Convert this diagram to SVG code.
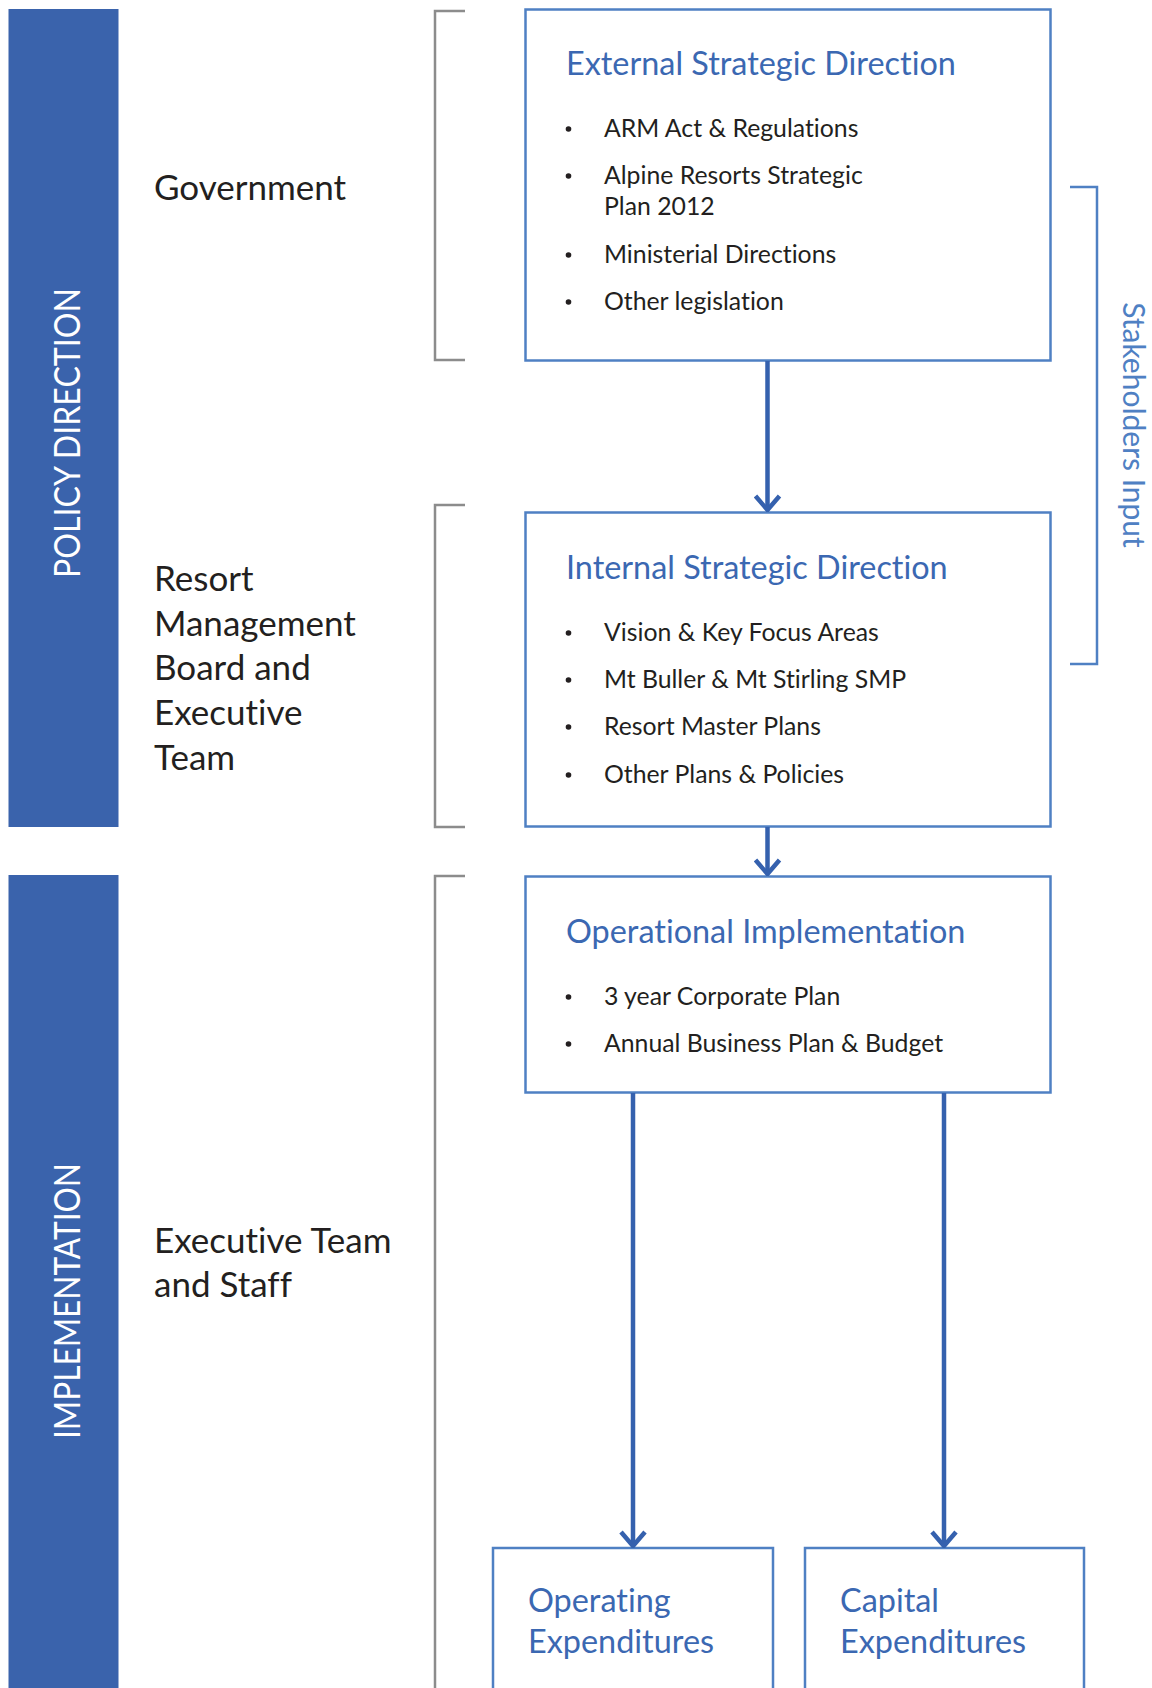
<svg xmlns="http://www.w3.org/2000/svg" width="1152" height="1688" viewBox="0 0 1152 1688">
<defs>
<style>
text{font-variant-ligatures:none}
.band{fill:#3A63AC}
.bandtxt{font-family:Lato,"Open Sans",sans-serif;font-size:37px;fill:#ffffff}
.lbl{font-family:Lato,"Open Sans",sans-serif;font-size:35px;fill:#231F20}
.box{fill:#ffffff;stroke:#4F80C3;stroke-width:2.5}
.ttl{font-family:Lato,"Open Sans",sans-serif;font-size:32.4px;fill:#3B68B2}
.item{font-family:Lato,"Open Sans",sans-serif;font-size:24.8px;fill:#231F20}
.dot{fill:#231F20}
.brk{fill:none;stroke:#8C8C8C;stroke-width:2.5}
.sbrk{fill:none;stroke:#4F80C3;stroke-width:2.5}
.conn{fill:none;stroke:#3561AE;stroke-width:4.5}
.stk{font-family:Lato,"Open Sans",sans-serif;font-size:30px;fill:#4F80C3}
</style>
<marker id="chev" viewBox="0 0 18 28" refX="16" refY="14" markerWidth="18" markerHeight="28" markerUnits="userSpaceOnUse" orient="auto">
<path d="M2,2 L16,14 L2,26" fill="none" stroke="#3561AE" stroke-width="4.5"/>
</marker>
</defs>
<rect width="1152" height="1688" fill="#ffffff"/>

<g id="band-policy">
<rect class="band" x="8.5" y="9" width="110" height="818"/>
<text class="bandtxt" transform="translate(80,433) rotate(-90)" text-anchor="middle" textLength="290" lengthAdjust="spacingAndGlyphs">POLICY DIRECTION</text>
</g>
<g id="band-implementation">
<rect class="band" x="8.5" y="875" width="110" height="813"/>
<text class="bandtxt" transform="translate(80,1301) rotate(-90)" text-anchor="middle" textLength="276" lengthAdjust="spacingAndGlyphs">IMPLEMENTATION</text>
</g>

<g id="label-government">
<text class="lbl" x="154" y="200">Government</text>
</g>
<g id="label-board">
<text class="lbl" x="154" y="591">Resort</text>
<text class="lbl" x="154" y="636">Management</text>
<text class="lbl" x="154" y="680">Board and</text>
<text class="lbl" x="154" y="725">Executive</text>
<text class="lbl" x="154" y="770">Team</text>
</g>
<g id="label-staff">
<text class="lbl" x="154" y="1253">Executive Team</text>
<text class="lbl" x="154" y="1297">and Staff</text>
</g>

<g id="brackets">
<path class="brk" d="M465,11 H435 V360 H465"/>
<path class="brk" d="M465,505 H435 V827 H465"/>
<path class="brk" d="M465,876 H435 V1690"/>
</g>

<g id="external">
<rect class="box" x="525.5" y="9.5" width="525" height="351"/>
<text class="ttl" x="566" y="75">External Strategic Direction</text>
<circle class="dot" cx="568.5" cy="129" r="2.8"/>
<text class="item" x="604" y="137">ARM Act &amp; Regulations</text>
<circle class="dot" cx="568.5" cy="176" r="2.8"/>
<text class="item" x="604" y="184">Alpine Resorts Strategic</text>
<text class="item" x="604" y="215">Plan 2012</text>
<circle class="dot" cx="568.5" cy="255" r="2.8"/>
<text class="item" x="604" y="263">Ministerial Directions</text>
<circle class="dot" cx="568.5" cy="302" r="2.8"/>
<text class="item" x="604" y="310">Other legislation</text>
</g>

<g id="internal">
<rect class="box" x="525.5" y="512.5" width="525" height="314"/>
<text class="ttl" x="566" y="579">Internal Strategic Direction</text>
<circle class="dot" cx="568.5" cy="633" r="2.8"/>
<text class="item" x="604" y="641">Vision &amp; Key Focus Areas</text>
<circle class="dot" cx="568.5" cy="680" r="2.8"/>
<text class="item" x="604" y="688">Mt Buller &amp; Mt Stirling SMP</text>
<circle class="dot" cx="568.5" cy="727" r="2.8"/>
<text class="item" x="604" y="735">Resort Master Plans</text>
<circle class="dot" cx="568.5" cy="775" r="2.8"/>
<text class="item" x="604" y="783">Other Plans &amp; Policies</text>
</g>

<g id="operational">
<rect class="box" x="525.5" y="876.5" width="525" height="216"/>
<text class="ttl" x="566" y="943">Operational Implementation</text>
<circle class="dot" cx="568.5" cy="997" r="2.8"/>
<text class="item" x="604" y="1005">3 year Corporate Plan</text>
<circle class="dot" cx="568.5" cy="1044" r="2.8"/>
<text class="item" x="604" y="1052">Annual Business Plan &amp; Budget</text>
</g>

<g id="operating">
<rect class="box" x="493" y="1548" width="280" height="150"/>
<text class="ttl" x="528" y="1612">Operating</text>
<text class="ttl" x="528" y="1653">Expenditures</text>
</g>

<g id="capital">
<rect class="box" x="805" y="1548" width="279" height="150"/>
<text class="ttl" x="840" y="1612">Capital</text>
<text class="ttl" x="840" y="1653">Expenditures</text>
</g>

<g id="stakeholders">
<path class="sbrk" d="M1070,187 H1097 V664 H1070"/>
<text class="stk" transform="translate(1123,425) rotate(90)" text-anchor="middle">Stakeholders Input</text>
</g>

<g id="connectors">
<path class="conn" d="M767.5,361 V510" marker-end="url(#chev)"/>
<path class="conn" d="M767.5,827 V874" marker-end="url(#chev)"/>
<path class="conn" d="M633,1093 V1546" marker-end="url(#chev)"/>
<path class="conn" d="M944,1093 V1546" marker-end="url(#chev)"/>
</g>
</svg>
